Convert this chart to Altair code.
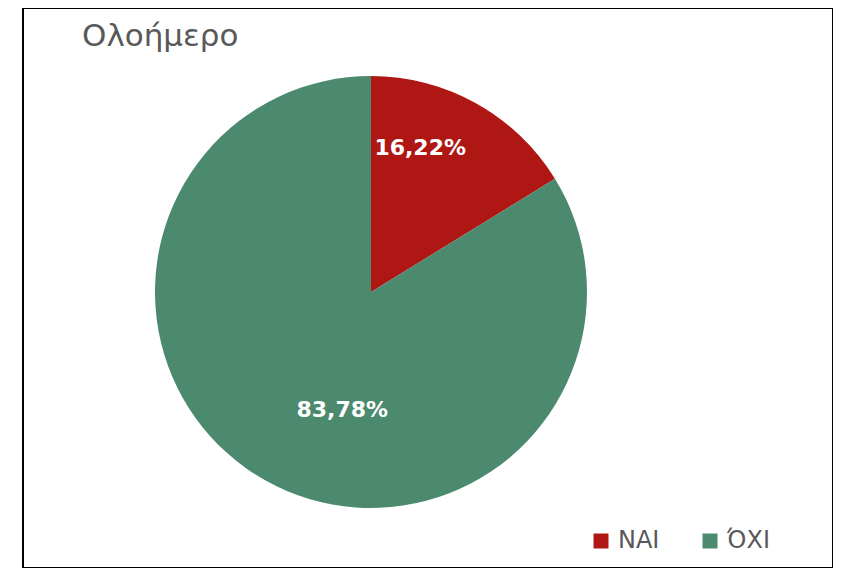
import altair as alt
import pandas as pd

categories = ["ΝΑΙ", "ΌΧΙ"]
values = [16.22, 83.78]
labels = ["16,22%", "83,78%"]
colors = ["#AF1714", "#4B8A6E"]

df = pd.DataFrame({"cat": categories, "val": values, "lbl": labels, "ord": [0, 1]})

FONT = "DejaVu Sans"
CX, CY = 348, 284

base = alt.Chart(df).encode(
    theta=alt.Theta("val:Q", stack=True),
    order=alt.Order("ord:Q"),
    x=alt.value(CX),
    y=alt.value(CY),
)

pie = base.mark_arc(outerRadius=216, stroke="white", strokeWidth=0).encode(
    color=alt.Color(
        "cat:N",
        scale=alt.Scale(domain=categories, range=colors),
        sort=categories,
        legend=alt.Legend(
            title=None,
            orient="none",
            direction="horizontal",
            legendX=566,
            legendY=521,
            symbolType="square",
            symbolSize=225,
            symbolStrokeWidth=0,
            labelFontSize=24,
            labelFont=FONT,
            labelColor="#595959",
            labelOffset=5,
            columnPadding=38,
        ),
    )
)

txt1 = base.transform_calculate(
    t="datum.cat == 'ΝΑΙ' ? datum.lbl : ''"
).mark_text(radius=152, thetaOffset=-0.18, fontSize=22, fontWeight="bold", font=FONT, color="white").encode(
    text="t:N"
)

txt2 = base.transform_calculate(
    t="datum.cat == 'ΌΧΙ' ? datum.lbl : ''"
).mark_text(radius=121, thetaOffset=-0.27, fontSize=22, fontWeight="bold", font=FONT, color="white").encode(
    text="t:N"
)

chart = alt.layer(pie, txt1, txt2).properties(
    width=810,
    height=560,
    padding={"left": 15, "top": 0, "right": 0, "bottom": 0},
    autosize=alt.AutoSizeParams(type="none"),
    title=alt.TitleParams(
        "Ολοήμερο",
        anchor="start",
        dx=59,
        dy=49,
        fontSize=31,
        font=FONT,
        fontWeight="normal",
        color="#595959",
    ),
).configure_view(stroke="#000000", strokeWidth=2)

chart.save("out.html", embed_options={"renderer": "svg", "actions": False})
